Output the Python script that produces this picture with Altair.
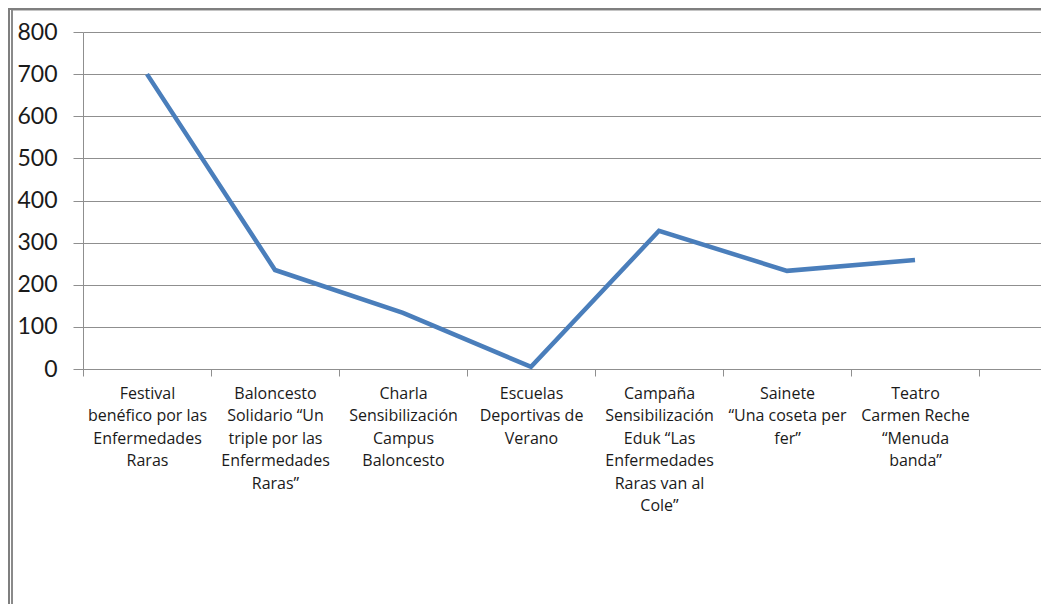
import altair as alt
import pandas as pd

categories = [
    "Festival|benéfico por las|Enfermedades|Raras",
    "Baloncesto|Solidario “Un|triple por las|Enfermedades|Raras”",
    "Charla|Sensibilización|Campus|Baloncesto",
    "Escuelas|Deportivas de|Verano",
    "Campaña|Sensibilización|Eduk “Las|Enfermedades|Raras van al|Cole”",
    "Sainete|“Una coseta per|fer”",
    "Teatro|Carmen Reche|“Menuda|banda”",
]
values = [700, 235, 133, 5, 328, 233, 259]
y_ticks = [0, 100, 200, 300, 400, 500, 600, 700, 800]

df = pd.DataFrame({"cat": categories, "val": values})
domain = categories + [" "]

GRID = "#8f8f8f"
TXT = "#1a1a1a"

line = alt.Chart(df).mark_line(color="#4A7EBB", strokeWidth=4.5).encode(
    x=alt.X(
        "cat:N",
        sort=None,
        scale=alt.Scale(domain=domain, range=[0, 1024], paddingInner=0, paddingOuter=0),
        axis=alt.Axis(
            title=None,
            labelExpr="split(datum.label, '|')",
            labelAngle=0,
            labelAlign="center",
            labelBaseline="top",
            labelFont="Open Sans",
            labelFontSize=16,
            labelColor=TXT,
            labelLineHeight=22.5,
            labelPadding=9,
            labelLimit=0,
            tickBand="extent",
            tickSize=7,
            tickColor=GRID,
            domainColor=GRID,
            grid=False,
        ),
    ),
    y=alt.Y(
        "val:Q",
        scale=alt.Scale(domain=[0, 800], nice=False),
        axis=alt.Axis(
            title=None,
            values=y_ticks,
            labelFont="Lato",
            labelFontSize=23,
            labelColor=TXT,
            labelPadding=16,
            tickSize=10,
            tickColor=GRID,
            domainColor=GRID,
            grid=True,
            gridColor=GRID,
            gridWidth=1,
        ),
    ),
)

frame_df = pd.DataFrame({"k": [0]})
left_dark1 = alt.Chart(frame_df).mark_rule(color="#7f7f7f", strokeWidth=2).encode(
    x=alt.value(-74), y=alt.value(-24), y2=alt.value(572)
)
left_dark2 = alt.Chart(frame_df).mark_rule(color="#8a8a8a", strokeWidth=2).encode(
    x=alt.value(-71), y=alt.value(-22), y2=alt.value(572)
)
top_dark = alt.Chart(frame_df).mark_rule(color="#7f7f7f", strokeWidth=2).encode(
    y=alt.value(-23), x=alt.value(-75), x2=alt.value(958)
)
top_light = alt.Chart(frame_df).mark_rule(color="#c4c4c4", strokeWidth=1).encode(
    y=alt.value(-21.5), x=alt.value(-70), x2=alt.value(958)
)

chart = (
    alt.layer(line, left_dark1, left_dark2, top_dark, top_light)
    .properties(
        width=958,
        height=337,
        autosize=alt.AutoSizeParams(type="none"),
        padding={"left": 75, "top": 24, "right": 0, "bottom": 235},
        background="white",
    )
    .configure_view(stroke=None)
)

chart.save("out.html", embed_options={"renderer": "svg", "actions": False})
